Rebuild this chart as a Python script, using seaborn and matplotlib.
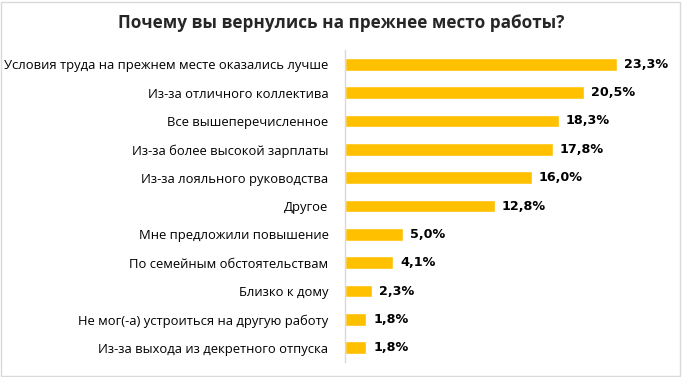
import matplotlib
matplotlib.use("Agg")
import matplotlib.pyplot as plt
import seaborn as sns
import pandas as pd
from matplotlib.patches import Rectangle

reasons = [
    "Условия труда на прежнем месте оказались лучше",
    "Из-за отличного коллектива",
    "Все вышеперечисленное",
    "Из-за более высокой зарплаты",
    "Из-за лояльного руководства",
    "Другое",
    "Мне предложили повышение",
    "По семейным обстоятельствам",
    "Близко к дому",
    "Не мог(-а) устроиться на другую работу",
    "Из-за выхода из декретного отпуска",
]
shares = [23.3, 20.5, 18.3, 17.8, 16.0, 12.8, 5.0, 4.1, 2.3, 1.8, 1.8]
value_labels = ["23,3%", "20,5%", "18,3%", "17,8%", "16,0%", "12,8%",
                "5,0%", "4,1%", "2,3%", "1,8%", "1,8%"]

df = pd.DataFrame({"reason": reasons, "share": shares})

sns.set_style("white")
plt.rcParams["font.family"] = ["Open Sans", "DejaVu Sans"]

fig = plt.figure(figsize=(6.82, 3.77), dpi=100)
ax = fig.add_axes([0.506, 0.040, 0.428, 0.827])

sns.barplot(data=df, x="share", y="reason", color="#FFC000", width=0.45,
            saturation=1, ax=ax)

ax.set_xlim(0, 25)
ax.set_xlabel("")
ax.set_ylabel("")
ax.set_xticks([])
ax.tick_params(axis="y", length=0, pad=12)
for lbl in ax.get_yticklabels():
    lbl.set_fontsize(9.4)
    lbl.set_color("#000000")
for side in ["top", "right", "bottom"]:
    ax.spines[side].set_visible(False)
ax.spines["left"].set_color("#D9D9D9")
ax.spines["left"].set_linewidth(1)

for i, (v, t) in enumerate(zip(shares, value_labels)):
    ax.text(v + 0.6, i, t, va="center", ha="left", fontsize=9.2,
            fontweight="bold", family=["DejaVu Sans"], color="#000000")

fig.text(0.5, 0.94, "Почему вы вернулись на прежнее место работы?",
         ha="center", va="center", fontsize=12.3, fontweight="bold")

fig.patches.append(Rectangle((0.002, 0.003), 0.995, 0.993, transform=fig.transFigure,
                             fill=False, edgecolor="#D9D9D9", linewidth=1))

fig.savefig("out.png", dpi=100)
